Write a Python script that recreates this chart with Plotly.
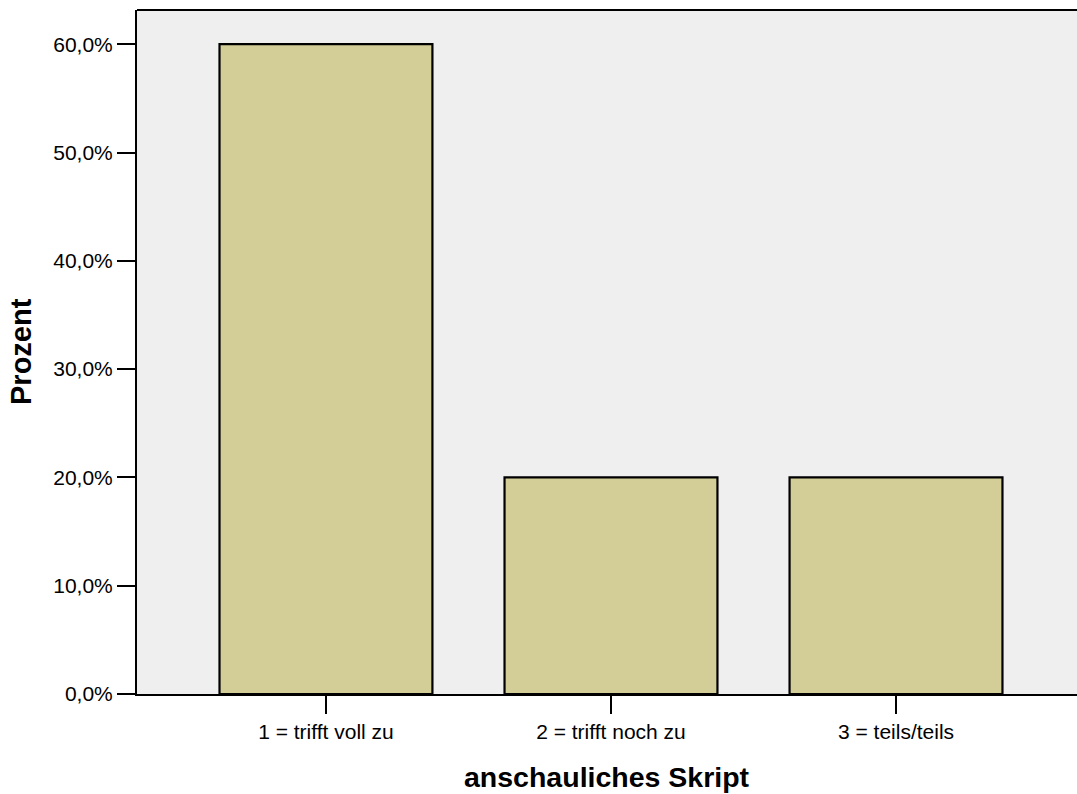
import plotly.graph_objects as go

categories = ["1 = trifft voll zu", "2 = trifft noch zu", "3 = teils/teils"]
percent = [60.0, 20.0, 20.0]
y_tick_values = [0, 10, 20, 30, 40, 50, 60]
y_tick_labels = ["0,0%", "10,0%", "20,0%", "30,0%", "40,0%", "50,0%", "60,0%"]

fig = go.Figure()
fig.add_trace(go.Bar(
    x=list(range(len(categories))), y=percent,
    width=0.747,
    marker=dict(color="#d3ce97", line=dict(color="#000000", width=2.2)),
    hoverinfo="skip",
))

fig.update_layout(
    width=1077, height=794,
    margin=dict(l=137, r=0, t=10, b=100),
    paper_bgcolor="#ffffff",
    plot_bgcolor="#efefef",
    showlegend=False,
    font=dict(family="Liberation Sans, Arial, sans-serif", size=21, color="#000000"),
    xaxis=dict(
        range=[-0.663, 2.635],
        tickmode="array",
        tickvals=list(range(len(categories))),
        ticktext=categories,
        ticks="outside", ticklen=18, tickwidth=2, tickcolor="#000000",
        showline=True, linecolor="#000000", linewidth=2,
        showgrid=False, zeroline=False,
        tickfont=dict(size=21),
    ),
    yaxis=dict(
        range=[0, 63.16],
        tickmode="array",
        tickvals=y_tick_values,
        ticktext=y_tick_labels,
        ticks="outside", ticklen=18, tickwidth=2, tickcolor="#000000",
        showline=True, linecolor="#000000", linewidth=2,
        showgrid=False, zeroline=False,
        tickfont=dict(size=21),
    ),
    shapes=[dict(type="line", xref="paper", yref="paper", x0=0, x1=1, y0=1, y1=1,
                 line=dict(color="#000000", width=2))],
    annotations=[
        dict(text="<b>anschauliches Skript</b>", xref="paper", yref="paper",
             x=0.5, y=0, yshift=-83, xanchor="center", yanchor="middle",
             showarrow=False, font=dict(size=28.5)),
        dict(text="<b>Prozent</b>", xref="paper", yref="paper",
             x=0, y=0.5, xshift=-116, xanchor="center", yanchor="middle",
             textangle=-90, showarrow=False, font=dict(size=29)),
    ],
)

fig.write_html("out.html", config={"displayModeBar": False},
               post_script="document.body.style.margin='0';")
